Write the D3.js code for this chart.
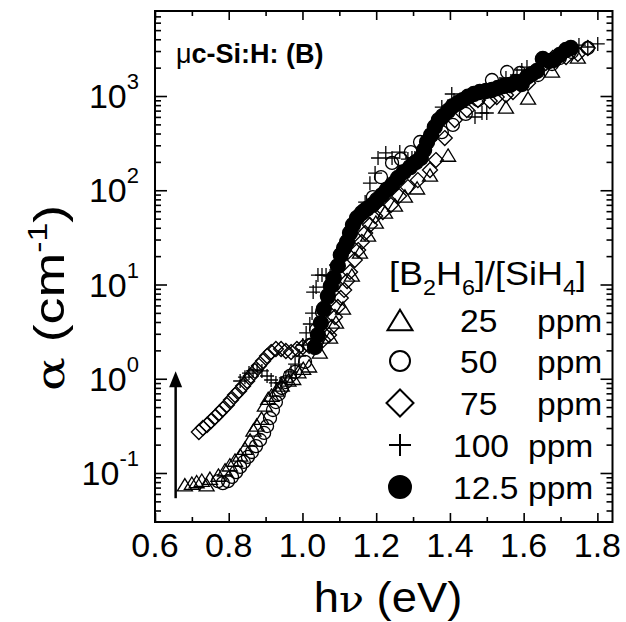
<!DOCTYPE html>
<html><head><meta charset="utf-8">
<script src="https://cdn.jsdelivr.net/npm/d3@7"></script>
<style>body{margin:0;background:#fff}svg{display:block}text{font-family:"Liberation Sans",Arial,sans-serif;fill:#000}</style>
</head><body>
<script>
// ---------- data (hv in eV, alpha in cm^-1) ----------
const ppm25 = [[0.681,0.075],[0.700,0.078],[0.713,0.081],[0.727,0.084],[0.740,0.075],[0.749,0.088],[0.772,0.095],[0.790,0.108],[0.803,0.122],[0.817,0.137],[0.831,0.155],[0.844,0.183],[0.858,0.224],[0.867,0.286],[0.876,0.323],[0.889,0.381],[0.898,0.527],[0.907,0.62],[0.916,0.671],[0.930,0.76],[0.944,0.858],[0.962,0.97],[0.975,1.01],[0.989,1.19],[1.002,1.29],[1.018,1.37],[1.047,1.92],[1.075,2.77],[1.091,4.0],[1.110,5.63],[1.134,12.6],[1.156,22.1],[1.178,33.5],[1.199,46],[1.224,58.8],[1.251,69.7],[1.278,87],[1.311,106],[1.346,145],[1.395,236],[1.552,765],[1.612,953],[1.677,1842],[1.747,2596]];
const ppm50 = [[0.771,0.082],[0.784,0.078],[0.798,0.082],[0.809,0.091],[0.820,0.102],[0.831,0.116],[0.841,0.131],[0.852,0.148],[0.863,0.167],[0.874,0.193],[0.885,0.224],[0.896,0.266],[0.904,0.315],[0.912,0.383],[0.920,0.466],[0.928,0.566],[0.936,0.688],[0.944,0.798],[0.955,0.923],[0.966,1.07],[0.980,1.18],[1.007,1.51],[1.020,2.28],[1.037,3.29],[1.053,5.1],[1.069,7.19],[1.085,9.88],[1.096,15.7],[1.113,24.4],[1.129,35.2],[1.148,50.8],[1.167,62],[1.191,84.6],[1.213,138],[1.243,195],[1.267,214],[1.294,254],[1.319,325],[1.346,367],[1.378,414],[1.408,493],[1.443,645],[1.476,906],[1.514,1478],[1.555,1797],[1.590,1754],[1.639,1670],[1.677,2185],[1.698,2531],[1.731,2929],[1.774,3230]];
const ppm75 = [[0.719,0.272],[0.730,0.300],[0.741,0.323],[0.752,0.356],[0.763,0.392],[0.774,0.433],[0.784,0.477],[0.795,0.527],[0.806,0.595],[0.817,0.671],[0.828,0.740],[0.839,0.836],[0.850,0.945],[0.860,1.07],[0.871,1.21],[0.882,1.37],[0.893,1.54],[0.904,1.74],[0.915,1.92],[0.928,2.07],[0.942,2.07],[0.955,1.97],[0.969,1.92],[0.985,2.07],[1.001,2.17],[1.018,2.23],[1.037,2.39],[1.056,2.58],[1.072,2.91],[1.080,3.54],[1.088,4.52],[1.096,5.77],[1.104,7.19],[1.113,8.76],[1.121,10.9],[1.129,13.6],[1.142,18.2],[1.151,23.2],[1.161,28.3],[1.170,35.2],[1.183,42.8],[1.197,53.3],[1.218,58.8],[1.240,69.7],[1.262,87],[1.286,108],[1.313,128],[1.346,164],[1.362,209],[1.386,358],[1.413,556],[1.446,710],[1.476,906],[1.508,886],[1.527,976],[1.552,1025],[1.571,1103],[1.612,1374],[1.660,2240],[1.679,2531],[1.715,2596],[1.747,2791],[1.774,3230]];
const ppm100 = [[0.831,0.946],[0.844,1.04],[0.855,1.15],[0.866,1.21],[0.877,1.24],[0.890,1.21],[0.904,1.07],[0.915,0.97],[0.928,0.902],[0.942,0.902],[0.955,1.02],[0.969,1.18],[0.980,1.43],[0.991,1.74],[1.001,2.28],[1.010,3.06],[1.020,3.81],[1.026,4.98],[1.029,8.32],[1.037,9.4],[1.042,12.6],[1.053,12.6],[1.064,12.6],[1.075,12.3],[1.091,16.1],[1.110,23.2],[1.129,33.5],[1.148,48.3],[1.170,75],[1.183,119],[1.197,152],[1.205,220],[1.226,249],[1.243,220],[1.264,254],[1.286,214],[1.297,220],[1.305,220],[1.378,764],[1.386,676],[1.405,1050],[1.411,906],[1.468,599],[1.487,660],[1.500,660],[1.552,1553],[1.582,1670],[1.595,1888],[1.609,2030],[1.650,2410],[1.704,2929],[1.750,3475],[1.774,3310],[1.801,3566]];
const ppm12 = [[1.034,2.17],[1.042,2.91],[1.050,3.9],[1.058,5.5],[1.069,7.55],[1.077,9.63],[1.085,11.7],[1.096,15.7],[1.104,20.5],[1.113,24.4],[1.121,28.3],[1.129,35.2],[1.137,42.8],[1.148,50.8],[1.161,57.4],[1.175,63.5],[1.189,69.7],[1.202,78.9],[1.216,89],[1.229,101],[1.245,116],[1.259,135],[1.275,156],[1.292,176],[1.308,199],[1.321,220],[1.330,267],[1.338,325],[1.349,385],[1.359,469],[1.370,556],[1.381,613],[1.395,694],[1.408,782],[1.422,843],[1.435,906],[1.449,982],[1.465,1050],[1.481,1103],[1.498,1130],[1.514,1158],[1.530,1216],[1.546,1277],[1.563,1309],[1.579,1408],[1.595,1341],[1.609,1591],[1.622,1711],[1.636,1842],[1.652,2470],[1.669,2350],[1.682,2410],[1.698,2723],[1.715,3079],[1.728,3230]];

const xMajor = [0.6,0.8,1.0,1.2,1.4,1.6,1.8];
const xMinor = [0.7,0.9,1.1,1.3,1.5,1.7];
const xTickLabels = ["0.6","0.8","1.0","1.2","1.4","1.6","1.8"];
const yMajor = [0.1,1,10,100,1000];
const yTickExp = ["-1","0","1","2","3"];
const legendNums = ["25","50","75","100","12.5"];

// ---------- layout ----------
const W=626,H=622, L=155, R=612.5, T=11, B=522;
const x = d3.scaleLinear().domain([0.6,1.841]).range([L,R]);
const y = d3.scaleLog().domain([0.0302,7980]).range([B,T]);

const svg = d3.select("body").append("svg").attr("width",W).attr("height",H);
svg.append("rect").attr("width",W).attr("height",H).attr("fill","#fff");

const yMinor=[];
for(let n=-2;n<=3;n++) for(let k=2;k<=9;k++){const v=k*Math.pow(10,n); if(v>0.0302&&v<7980) yMinor.push(v);}

function axisG(gen, tx, ty){
  const g=svg.append("g").attr("transform",`translate(${tx},${ty})`).call(gen);
  g.select(".domain").remove();
  g.selectAll("line").attr("stroke","#000").attr("stroke-width",1.6);
  g.selectAll("text").remove();
  return g;
}
axisG(d3.axisBottom(x).tickValues(xMajor).tickSize(-9).tickFormat(""),0,B);
axisG(d3.axisBottom(x).tickValues(xMinor).tickSize(-5).tickFormat(""),0,B);
axisG(d3.axisTop(x).tickValues(xMajor).tickSize(-9).tickFormat(""),0,T);
axisG(d3.axisTop(x).tickValues(xMinor).tickSize(-5).tickFormat(""),0,T);
axisG(d3.axisLeft(y).tickValues(yMajor).tickSize(-12).tickFormat(""),L,0);
axisG(d3.axisLeft(y).tickValues(yMinor).tickSize(-6).tickFormat(""),L,0);
axisG(d3.axisRight(y).tickValues(yMajor).tickSize(-12).tickFormat(""),R,0);
axisG(d3.axisRight(y).tickValues(yMinor).tickSize(-6).tickFormat(""),R,0);

svg.append("rect").attr("x",L).attr("y",T).attr("width",R-L).attr("height",B-T)
  .attr("fill","none").attr("stroke","#000").attr("stroke-width",2);

// tick labels
svg.append("g").selectAll("text").data(xMajor).join("text")
  .attr("x",d=>x(d)).attr("y",557).attr("text-anchor","middle").attr("font-size",34)
  .text((d,i)=>xTickLabels[i]);
yMajor.forEach((v,i)=>{
  const t=svg.append("text").attr("x",L-16).attr("y",y(v)+12).attr("text-anchor","end").attr("font-size",34);
  t.append("tspan").text("10");
  t.append("tspan").attr("dy",-19).attr("font-size",22).text(yTickExp[i]);
});

// axis titles
const xt=svg.append("text").attr("transform","translate(388,612) scale(1.08,1)").attr("text-anchor","middle").attr("font-size",42);
xt.append("tspan").text("h");
xt.append("tspan").attr("font-family","'DejaVu Serif',serif").attr("font-size",38).text("\u03bd");
xt.append("tspan").text(" (eV)");
const yt=svg.append("text").attr("transform","translate(64,298) rotate(-90) scale(1.25,1)").attr("text-anchor","middle").attr("font-size",43);
yt.append("tspan").attr("font-family","'DejaVu Serif',serif").attr("font-size",40).text("\u03b1");
yt.append("tspan").text(" (cm");
yt.append("tspan").attr("dy",-17).attr("font-size",27).text("-1");
yt.append("tspan").attr("dy",17).text(")");

// symbols (size = width in px)
const tri={draw(c,s){const h=s*0.82;c.moveTo(0,-h/2);c.lineTo(s/2,h/2);c.lineTo(-s/2,h/2);c.closePath();}};
const dia={draw(c,s){c.moveTo(0,-s/2);c.lineTo(s/2,0);c.lineTo(0,s/2);c.lineTo(-s/2,0);c.closePath();}};
const plus={draw(c,s){c.moveTo(-s/2,0);c.lineTo(s/2,0);c.moveTo(0,-s/2);c.lineTo(0,s/2);}};
const circ={draw(c,s){c.moveTo(s/2,0);c.arc(0,0,s/2,0,2*Math.PI);}};

const series=[
  {data:ppm25,type:tri,size:15,fill:"none"},
  {data:ppm50,type:circ,size:13,fill:"none"},
  {data:ppm75,type:dia,size:15,fill:"none"},
  {data:ppm100,type:plus,size:14,fill:"none"},
  {data:ppm12,type:circ,size:15,fill:"#000"}
];
const plot=svg.append("g");
series.forEach(s=>{
  plot.append("g").selectAll("path").data(s.data).join("path")
    .attr("transform",d=>`translate(${x(d[0])},${y(d[1])})`)
    .attr("d",d3.symbol().type(s.type).size(s.size))
    .attr("fill",s.fill).attr("stroke","#000").attr("stroke-width",1.3);
});

// arrow
const arrowHv=0.656, arrowFrom=0.054, arrowTo=1.2;
svg.append("line").attr("x1",x(arrowHv)).attr("x2",x(arrowHv)).attr("y1",y(arrowFrom)).attr("y2",y(arrowTo)+14)
  .attr("stroke","#000").attr("stroke-width",2.5);
svg.append("path").attr("d",`M${x(arrowHv)},${y(arrowTo)} l-6.5,16 l13,0 z`).attr("fill","#000");

// annotation
const an=svg.append("text").attr("x",176).attr("y",63).attr("font-size",27).attr("font-weight","bold");
an.append("tspan").attr("font-weight","normal").text("\u03bc");
an.append("tspan").text("c-Si:H: (B)");

// legend
const lt=svg.append("text").attr("transform","translate(389,285) scale(1.06,1)").attr("font-size",34);
lt.append("tspan").text("[B");
lt.append("tspan").attr("dy",10).attr("font-size",22).text("2");
lt.append("tspan").attr("dy",-10).text("H");
lt.append("tspan").attr("dy",10).attr("font-size",22).text("6");
lt.append("tspan").attr("dy",-10).text("]/[SiH");
lt.append("tspan").attr("dy",10).attr("font-size",22).text("4");
lt.append("tspan").attr("dy",-10).text("]");

const legSym=[{type:tri,size:25,fill:"none"},{type:circ,size:20,fill:"none"},{type:dia,size:27,fill:"none"},{type:plus,size:22,fill:"none"},{type:circ,size:22,fill:"#000"}];
const rowY=[320,361,403,445,487];
const numX=[460,460,460,453,453], ppmX=[537,537,537,528,528];
legSym.forEach((s,i)=>{
  svg.append("path").attr("transform",`translate(400,${rowY[i]})`).attr("d",d3.symbol().type(s.type).size(s.size))
    .attr("fill",s.fill).attr("stroke","#000").attr("stroke-width",2);
  svg.append("text").attr("transform",`translate(${numX[i]},${rowY[i]+12}) scale(1.05,1)`).attr("font-size",32).text(legendNums[i]);
  svg.append("text").attr("transform",`translate(${ppmX[i]},${rowY[i]+12}) scale(1.05,1)`).attr("font-size",32).text("ppm");
});
</script>
</body></html>
